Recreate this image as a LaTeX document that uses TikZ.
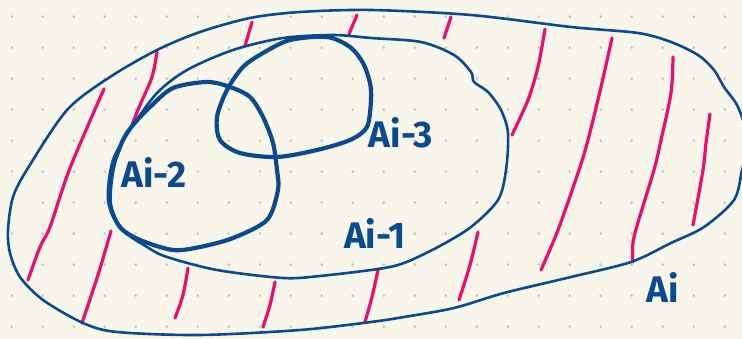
\documentclass[tikz,border=0pt]{standalone}
\usepackage{fontspec}
\setsansfont{Fira Sans}
\usetikzlibrary{calc}

\definecolor{paper}{HTML}{F8F6EA}
\definecolor{dotgray}{HTML}{C9C7BD}
\definecolor{inkblue}{HTML}{0B4A8E}
\definecolor{inkpink}{HTML}{EE0C6E}

\begin{document}
\begin{tikzpicture}[
    x=1pt, y=-1pt,
    every node/.style={font=\sffamily},
    setline/.style={inkblue, line width=2.6pt, line cap=round, line join=round},
    setthick/.style={inkblue, line width=4.2pt, line cap=round, line join=round},
    hatch/.style={inkpink, line width=3.2pt, line cap=round},
    setlabel/.style={text=inkblue, font=\sffamily\bfseries\fontsize{37}{42}\selectfont, inner sep=0pt},
]

% === Paper and dot grid ===
\def\gridX{11.7}    % first dot column
\def\gridY{16.7}    % first dot row
\def\gridD{31}      % dot spacing
\fill[paper] (0,0) rectangle (742,339);
\useasboundingbox (0,0) rectangle (742,339);
\clip (0,0) rectangle (742,339);
\foreach \i in {0,...,23} {
    \foreach \j in {0,...,10} {
        \fill[dotgray] ({\gridX+\gridD*\i},{\gridY+\gridD*\j}) circle (1.5pt);
    }
}

% === Hatching of A_i minus A_{i-1} ===
\draw[hatch] plot[smooth] coordinates {(104,89) (70,168) (50,227) (40,247) (28,280)};
\draw[hatch] plot[smooth] coordinates {(157,52) (152,77) (140,105) (132,125)};
\draw[hatch] plot[smooth] coordinates {(252,22) (245,46)};
\draw[hatch] plot[smooth] coordinates {(357,15) (349,34)};
\draw[hatch] plot[smooth] coordinates {(451,17) (444,38)};
\draw[hatch] plot[smooth] coordinates {(545,29) (538,67) (528,100) (512,135)};
\draw[hatch] plot[smooth] coordinates {(612,38) (601,87) (588,140) (579,170) (558,230) (541,270)};
\draw[hatch] plot[smooth] coordinates {(673,57) (671,93) (661,140) (654,170) (634,237) (633,262)};
\draw[hatch] plot[smooth] coordinates {(710,114) (706,143) (703,170) (693,225)};
\draw[hatch] plot[smooth] coordinates {(111,231) (98,275) (82,323)};
\draw[hatch] plot[smooth] coordinates {(188,268) (183,295) (175,318)};
\draw[hatch] plot[smooth] coordinates {(275,282) (270,305) (263,327)};
\draw[hatch] plot[smooth] coordinates {(378,270) (372,297) (365,322)};
\draw[hatch] plot[smooth] coordinates {(478,232) (470,265) (459,300)};

% === Outer set A_i ===
\draw[setline] plot[smooth cycle] coordinates {
    (300,12) (371,10) (471,15) (571,27) (638,33) (671,42) (698,55)
    (714,70) (724,87) (738,107) (748,140) (742,170) (734,200) (704,227)
    (671,243) (631,262) (571,277) (504,293) (454,308) (404,317) (371,322)
    (300,330) (200,335) (117,332) (83,323) (43,300) (20,277) (10,253)
    (8,230) (13,197) (28,168) (67,110) (110,77) (157,50) (200,32) (250,18)};

% === A_{i-1} ===
\draw[setline] plot[smooth cycle] coordinates {
    (132,127) (157,93) (187,70) (233,50) (283,38) (333,35) (371,38)
    (421,42) (454,55) (471,72) (474,82) (488,92) (501,110) (508,133)
    (506,170) (498,200) (471,227) (438,247) (404,263) (378,269) (320,276)
    (283,278) (217,270) (167,257) (147,247) (120,228) (108,200) (113,160)};

% === A_{i-2} ===
\draw[setthick] plot[smooth cycle] coordinates {
    (113,168) (123,140) (133,125) (150,107) (173,88) (207,82) (230,87)
    (250,97) (263,117) (273,143) (277,170) (278,190) (267,220) (233,238)
    (200,247) (173,250) (140,240) (120,227) (110,203)};

% === A_{i-3} ===
\draw[setthick] plot[smooth cycle] coordinates {
    (290,40) (327,37) (350,47) (363,63) (370,83) (371,100) (367,127)
    (350,140) (317,150) (277,157) (240,153) (220,140) (217,117) (227,90)
    (243,67) (263,53)};

% === Labels ===
\node[setlabel] (lblA2) at (154,172) {Ai-2};
\node[setlabel] (lblA3) at (401,133) {Ai-3};
\node[setlabel] (lblA1) at (375,233) {Ai-1};
\node[setlabel] (lblA0) at (663,287) {Ai};

\end{tikzpicture}
\end{document}
